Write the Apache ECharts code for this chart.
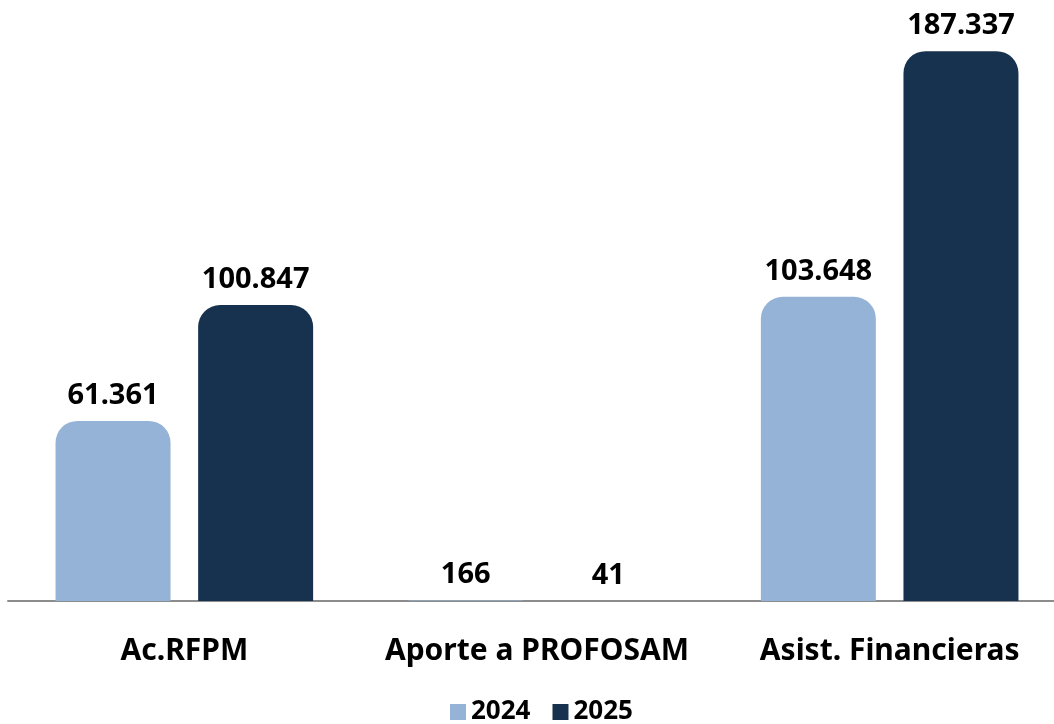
<!DOCTYPE html>
<html>
<head>
<meta charset="utf-8">
<style>
  html, body { margin: 0; padding: 0; background: #fff; }
  #chart { width: 1054px; height: 724px; }
</style>
<script src="https://cdn.jsdelivr.net/npm/echarts@6/dist/echarts.min.js"></script>
</head>
<body>
<div id="chart"></div>
<script>
// datos del gráfico
var categories = ['Ac.RFPM', 'Aporte a PROFOSAM', 'Asist. Financieras'];
var years = ['2024', '2025'];
var values2024 = [61361, 166, 103648];
var values2025 = [100847, 41, 187337];
var colors = ['#95B3D7', '#17324F'];

// separador de miles con punto
function fmt(v) {
  return String(v).replace(/\B(?=(\d{3})+(?!\d))/g, '.');
}

var chart = echarts.init(document.getElementById('chart'));

function barSeries(name, data, color) {
  return {
    name: name,
    type: 'bar',
    data: data,
    barWidth: 115,
    barGap: '24%',
    itemStyle: { color: color, borderRadius: [22, 22, 0, 0] },
    label: {
      show: true,
      position: 'top',
      distance: 11,
      color: '#000',
      fontFamily: 'Noto Sans',
      fontWeight: 'bold',
      fontSize: 29,
      formatter: function (p) { return fmt(p.value); }
    }
  };
}

var option = {
  animation: false,
  textStyle: { fontFamily: 'Noto Sans' },
  grid: { left: 8, top: 14, width: 1058, bottom: 123, containLabel: false, outerBoundsMode: 'none' },
  legend: {
    data: years,
    left: 445,
    top: 694,
    itemWidth: 16,
    itemHeight: 16,
    itemGap: 22,
    icon: 'rect',
    textStyle: { fontFamily: 'Noto Sans', fontWeight: 'bold', fontSize: 26, color: '#000', padding: [0, 0, 0, 0] }
  },
  xAxis: {
    type: 'category',
    data: categories,
    axisLine: { lineStyle: { color: '#8c8c8c', width: 2 } },
    axisTick: { show: false },
    axisLabel: {
      interval: 0,
      hideOverlap: false,
      margin: 35,
      color: '#000',
      fontFamily: 'Noto Sans',
      fontWeight: 'bold',
      fontSize: 30
    }
  },
  yAxis: {
    type: 'value',
    min: 0,
    max: 200000,
    show: false,
    splitLine: { show: false }
  },
  series: [
    barSeries(years[0], values2024, colors[0]),
    barSeries(years[1], values2025, colors[1])
  ]
};

chart.setOption(option);
</script>
</body>
</html>
